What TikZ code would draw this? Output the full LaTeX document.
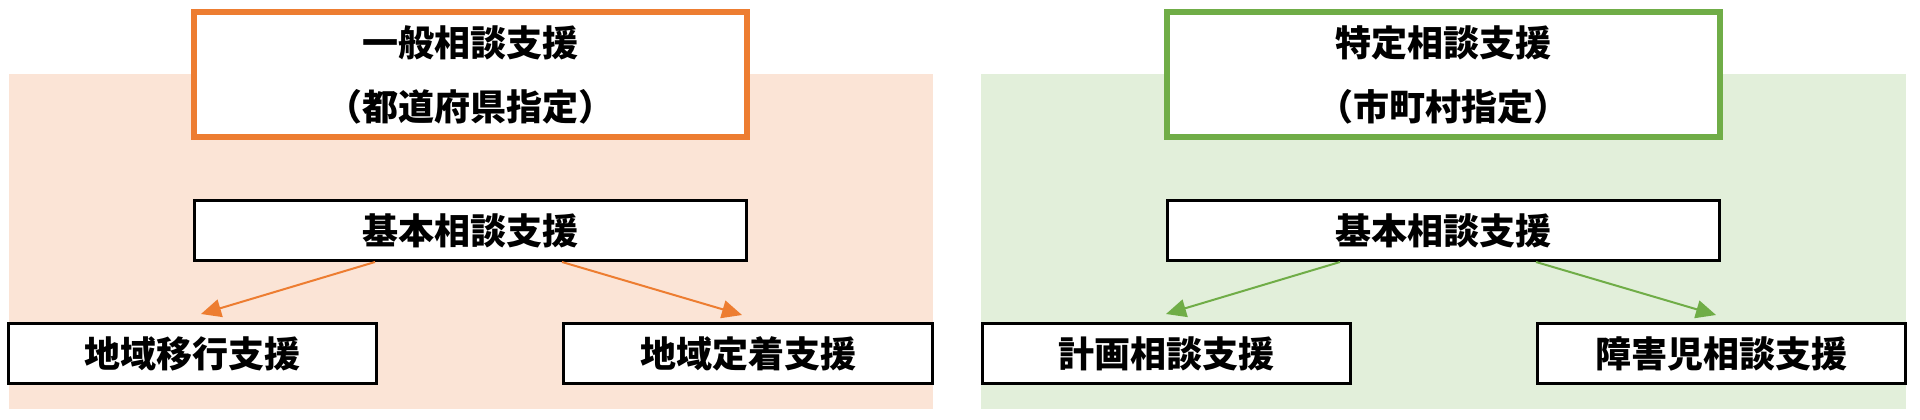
\documentclass[tikz,border=0pt]{standalone}
\usepackage{fontspec}
\newfontfamily\jpfont{Noto Sans CJK JP}
\usetikzlibrary{arrows.meta}
\definecolor{ippanOrange}{HTML}{ED7D31}
\definecolor{ippanBg}{HTML}{FBE4D6}
\definecolor{tokuteiGreen}{HTML}{70AD47}
\definecolor{tokuteiBg}{HTML}{E2EFDA}
\begin{document}
\begin{tikzpicture}[x=1pt, y=-1pt, line join=miter, >={Triangle[length=20pt,width=18pt]}]
            \tikzset{label box/.style={draw=black, line width=3pt, fill=white, inner sep=0pt, align=center, minimum height=60pt, font=\jpfont\bfseries\fontsize{36}{64}\selectfont},
                     head box/.style={label box, line width=6pt, minimum width=553pt, minimum height=125pt}}
            \useasboundingbox (0,0) rectangle (1920,420);
            % backgrounds
            \fill[ippanBg] (9,74) rectangle (933,409);
            \fill[tokuteiBg] (981,74) rectangle (1906,409);
            % left side
            \node[head box, draw=ippanOrange] (ippan) at (470.5,74.5) {一般相談支援\\（都道府県指定）};
            \node[label box, minimum width=552pt] (kihonL) at (470.5,230.5) {基本相談支援};
            \node[label box, minimum width=368pt] (ikou) at (192.5,353.5) {地域移行支援};
            \node[label box, minimum width=369pt] (teichaku) at (748,353.5) {地域定着支援};
            \draw[->, ippanOrange, line width=2pt] ([xshift=182pt]kihonL.south west) -- ([xshift=194pt, yshift=8pt]ikou.north west);
            \draw[->, ippanOrange, line width=2pt] ([xshift=369pt]kihonL.south west) -- ([xshift=180pt, yshift=7pt]teichaku.north west);
            % right side
            \node[head box, draw=tokuteiGreen] (tokutei) at (1443.5,74.5) {特定相談支援\\（市町村指定）};
            \node[label box, minimum width=552pt] (kihonR) at (1443.5,230.5) {基本相談支援};
            \node[label box, minimum width=368pt] (keikaku) at (1166.5,353.5) {計画相談支援};
            \node[label box, minimum width=368pt] (shougaiji) at (1721.5,353.5) {障害児相談支援};
            \draw[->, tokuteiGreen, line width=2pt] ([xshift=174pt]kihonR.south west) -- ([xshift=185pt, yshift=8pt]keikaku.north west);
            \draw[->, tokuteiGreen, line width=2pt] ([xshift=370pt]kihonR.south west) -- ([xshift=180pt, yshift=7pt]shougaiji.north west);
        \end{tikzpicture}
\end{document}
